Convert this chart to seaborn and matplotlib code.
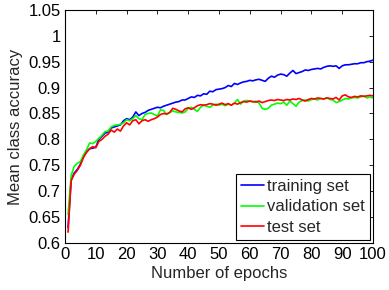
import numpy as np
import pandas as pd
import matplotlib
matplotlib.use("Agg")
import matplotlib.pyplot as plt
import seaborn as sns

# Accuracy per epoch
epochs = list(range(1, 101))

train_acc = [
    0.630, 0.722, 0.735, 0.742, 0.752, 0.768, 0.776, 0.782, 0.783, 0.785,
    0.800, 0.806, 0.812, 0.814, 0.822, 0.824, 0.826, 0.828, 0.836, 0.840,
    0.838, 0.843, 0.853, 0.846, 0.850, 0.852, 0.856, 0.858, 0.860, 0.862,
    0.861, 0.864, 0.866, 0.868, 0.870, 0.872, 0.873, 0.876, 0.876, 0.879,
    0.882, 0.881, 0.885, 0.884, 0.888, 0.887, 0.893, 0.892, 0.896, 0.897,
    0.898, 0.900, 0.904, 0.902, 0.908, 0.906, 0.909, 0.911, 0.912, 0.914,
    0.913, 0.915, 0.916, 0.914, 0.912, 0.918, 0.922, 0.920, 0.924, 0.926,
    0.925, 0.922, 0.928, 0.933, 0.927, 0.929, 0.931, 0.934, 0.933, 0.935,
    0.936, 0.937, 0.936, 0.939, 0.941, 0.942, 0.941, 0.942, 0.937, 0.942,
    0.944, 0.944, 0.945, 0.946, 0.946, 0.948, 0.948, 0.950, 0.951, 0.953,
]

val_acc = [
    0.655, 0.730, 0.748, 0.754, 0.757, 0.770, 0.780, 0.793, 0.792, 0.796,
    0.802, 0.808, 0.815, 0.816, 0.824, 0.827, 0.828, 0.829, 0.832, 0.838,
    0.836, 0.840, 0.846, 0.840, 0.838, 0.848, 0.850, 0.851, 0.848, 0.845,
    0.857, 0.856, 0.848, 0.852, 0.855, 0.853, 0.852, 0.851, 0.853, 0.860,
    0.862, 0.858, 0.854, 0.862, 0.866, 0.864, 0.862, 0.866, 0.868, 0.866,
    0.868, 0.865, 0.868, 0.866, 0.870, 0.877, 0.868, 0.874, 0.875, 0.874,
    0.872, 0.874, 0.870, 0.860, 0.858, 0.860, 0.866, 0.868, 0.870, 0.869,
    0.872, 0.866, 0.874, 0.869, 0.864, 0.872, 0.875, 0.876, 0.874, 0.877,
    0.878, 0.876, 0.879, 0.878, 0.880, 0.877, 0.876, 0.871, 0.873, 0.876,
    0.879, 0.878, 0.880, 0.881, 0.880, 0.882, 0.884, 0.880, 0.882, 0.880,
]

test_acc = [
    0.621, 0.720, 0.733, 0.740, 0.750, 0.765, 0.775, 0.782, 0.786, 0.784,
    0.796, 0.800, 0.806, 0.810, 0.818, 0.814, 0.820, 0.816, 0.826, 0.832,
    0.828, 0.836, 0.838, 0.830, 0.836, 0.838, 0.835, 0.838, 0.840, 0.843,
    0.848, 0.850, 0.849, 0.852, 0.860, 0.858, 0.855, 0.853, 0.859, 0.861,
    0.858, 0.861, 0.865, 0.867, 0.866, 0.867, 0.869, 0.868, 0.866, 0.868,
    0.870, 0.867, 0.869, 0.866, 0.870, 0.868, 0.871, 0.873, 0.872, 0.874,
    0.873, 0.872, 0.874, 0.871, 0.873, 0.875, 0.876, 0.875, 0.877, 0.876,
    0.875, 0.877, 0.876, 0.878, 0.877, 0.879, 0.876, 0.874, 0.877, 0.879,
    0.878, 0.880, 0.879, 0.878, 0.880, 0.879, 0.878, 0.881, 0.876, 0.884,
    0.886, 0.882, 0.881, 0.883, 0.882, 0.884, 0.883, 0.884, 0.885, 0.884,
]

series_names = ["training set", "validation set", "test set"]
x_ticks = list(range(0, 101, 10))
y_ticks = [0.6, 0.65, 0.7, 0.75, 0.8, 0.85, 0.9, 0.95, 1.0, 1.05]
y_tick_labels = ["0.6", "0.65", "0.7", "0.75", "0.8", "0.85", "0.9", "0.95", "1", "1.05"]

df = pd.DataFrame({
    "epoch": epochs * 3,
    "acc": train_acc + val_acc + test_acc,
    "set": sum([[n] * len(epochs) for n in series_names], []),
})

sns.set_style("white")
plt.rcParams["font.family"] = ["Liberation Sans", "DejaVu Sans"]
plt.rcParams["font.size"] = 12

fig = plt.figure(figsize=(3.89, 2.90), dpi=100)
ax = fig.add_axes([0.167, 0.162, 0.792, 0.804])

sns.lineplot(data=df, x="epoch", y="acc", hue="set", hue_order=series_names,
             palette=["#0000ff", "#00ff00", "#ff0000"], linewidth=1.2, ax=ax)

ax.set_xlim(0, 100)
ax.set_ylim(0.6, 1.05)
ax.set_xticks(x_ticks)
ax.set_yticks(y_ticks)
ax.set_yticklabels(y_tick_labels)
ax.tick_params(direction="in", length=3, width=0.6, top=True, right=True,
               labelsize=12, pad=3, colors="black")
for s in ax.spines.values():
    s.set_visible(True)
    s.set_color("black")
    s.set_linewidth(0.8)

ax.set_xlabel("Number of epochs", fontsize=12, labelpad=3)
ax.set_ylabel("Mean class accuracy", fontsize=12, labelpad=4)

leg = ax.legend(loc="lower right", fontsize=12, frameon=True, fancybox=False,
                edgecolor="black", handlelength=1.35, handletextpad=0.2,
                labelspacing=0.32, borderpad=0.3, borderaxespad=0.2)
leg.get_frame().set_linewidth(0.8)
leg.get_frame().set_alpha(1)

plt.savefig("out.png", dpi=100)
plt.close()
